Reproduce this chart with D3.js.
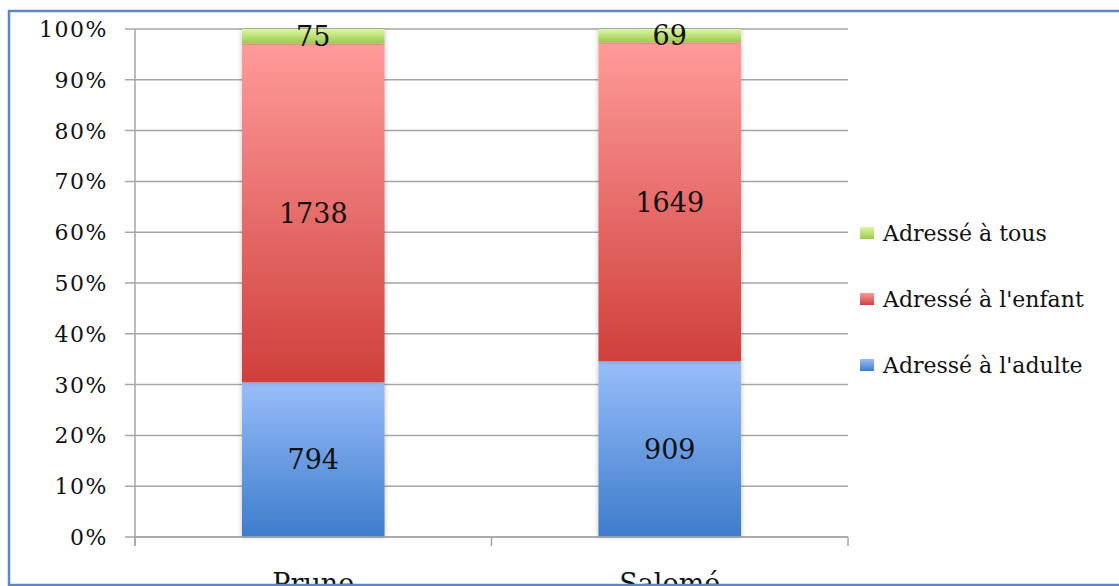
<!DOCTYPE html>
<html>
<head>
<meta charset="utf-8">
<script src="https://cdn.jsdelivr.net/npm/d3@7"></script>
<style>
  body { margin: 0; background: #fff; overflow: hidden; }
  svg { display: block; }
  .tick-label { font: 22px "DejaVu Serif"; letter-spacing: 1.5px; fill: #111; }
  .value-label { font: 27px "DejaVu Serif"; fill: #111; }
  .cat-label { font: 27px "DejaVu Serif"; fill: #111; }
  .legend-label { font: 22px "DejaVu Serif"; fill: #111; }
</style>
</head>
<body>
<svg id="chart" width="1119" height="586"></svg>
<script>
// data
const categories = ['Prune', 'Salomé'];
const seriesNames = ['Adressé à l\u2019adulte', 'Adressé à l\u2019enfant', 'Adressé à tous'];
const adulte = [794, 909];
const enfant = [1738, 1649];
const tous = [75, 69];
const yTicks = [0, 0.1, 0.2, 0.3, 0.4, 0.5, 0.6, 0.7, 0.8, 0.9, 1];

const legendNames = ['Adressé à tous', 'Adressé à l\'enfant', 'Adressé à l\'adulte'];

// config
const MARGIN = { top: 29, left: 135, right: 848, bottom: 537 };
const gradients = [
  ['#99bdfa', '#3c7ccb'],
  ['#ff9b99', '#cf3f3c'],
  ['#dbf8a2', '#9cc84e']
];

const svg = d3.select('#chart');
const defs = svg.append('defs');

gradients.forEach((g, i) => {
  const lg = defs.append('linearGradient')
    .attr('id', 'grad' + i)
    .attr('x1', 0).attr('y1', 0).attr('x2', 0).attr('y2', 1);
  lg.append('stop').attr('offset', '0%').attr('stop-color', g[0]);
  lg.append('stop').attr('offset', '100%').attr('stop-color', g[1]);
});

const shadow = defs.append('filter').attr('id', 'shadow')
  .attr('x', '-10%').attr('y', '-5%').attr('width', '120%').attr('height', '110%');
shadow.append('feDropShadow')
  .attr('dx', 0).attr('dy', 0).attr('stdDeviation', 2.5)
  .attr('flood-color', '#000').attr('flood-opacity', 0.25);

const x = d3.scaleBand()
  .domain(categories)
  .range([MARGIN.left, MARGIN.right])
  .paddingInner(0.6)
  .paddingOuter(0.3);

const y = d3.scaleLinear().domain([0, 1]).range([MARGIN.bottom, MARGIN.top]);

// gridlines + y axis ticks
svg.append('g')
  .selectAll('line')
  .data(yTicks)
  .enter()
  .append('line')
  .attr('x1', MARGIN.left - 10)
  .attr('x2', MARGIN.right)
  .attr('y1', d => y(d))
  .attr('y2', d => y(d))
  .attr('stroke', '#a6a6a6')
  .attr('stroke-width', 1.5);

svg.append('g')
  .selectAll('text')
  .data(yTicks)
  .enter()
  .append('text')
  .attr('class', 'tick-label')
  .attr('x', 108)
  .attr('y', d => y(d))
  .attr('dy', '0.36em')
  .attr('text-anchor', 'end')
  .text(d3.format('.0%'));

// axes
svg.append('line')
  .attr('x1', MARGIN.left).attr('x2', MARGIN.left)
  .attr('y1', MARGIN.top).attr('y2', MARGIN.bottom + 9)
  .attr('stroke', '#a6a6a6').attr('stroke-width', 1.5);

const xTicks = [MARGIN.left].concat(categories.map(c => x(c) + x.bandwidth() + x.step() * 0.3));
svg.append('g')
  .selectAll('line')
  .data(xTicks)
  .enter()
  .append('line')
  .attr('x1', d => d).attr('x2', d => d)
  .attr('y1', MARGIN.bottom).attr('y2', MARGIN.bottom + 9)
  .attr('stroke', '#a6a6a6').attr('stroke-width', 1.5);

// stacked bars
const rows = categories.map((c, i) => ({ cat: c, s0: adulte[i], s1: enfant[i], s2: tous[i] }));
const stack = d3.stack().keys(['s0', 's1', 's2']).offset(d3.stackOffsetExpand);
const stacked = stack(rows);

const layer = svg.append('g')
  .selectAll('g')
  .data(stacked)
  .enter()
  .append('g');

layer.selectAll('rect')
  .data((d, i) => d.map(p => ({ p, i })))
  .enter()
  .append('rect')
  .attr('x', d => x(d.p.data.cat))
  .attr('width', x.bandwidth())
  .attr('y', d => y(d.p[1]))
  .attr('height', d => y(d.p[0]) - y(d.p[1]))
  .attr('fill', d => 'url(#grad' + d.i + ')')
  .attr('filter', 'url(#shadow)');

// x axis line over the bars
svg.append('line')
  .attr('x1', MARGIN.left).attr('x2', MARGIN.right)
  .attr('y1', MARGIN.bottom).attr('y2', MARGIN.bottom)
  .attr('stroke', '#a6a6a6').attr('stroke-width', 1.5);

layer.selectAll('text')
  .data(d => d.map(p => ({ p, v: p.data[d.key] })))
  .enter()
  .append('text')
  .attr('class', 'value-label')
  .attr('x', d => x(d.p.data.cat) + x.bandwidth() / 2)
  .attr('y', d => (y(d.p[0]) + y(d.p[1])) / 2)
  .attr('dy', '0.36em')
  .attr('text-anchor', 'middle')
  .text(d => d.v);

// category labels
svg.append('g')
  .selectAll('text')
  .data(categories)
  .enter()
  .append('text')
  .attr('class', 'cat-label')
  .attr('x', d => x(d) + x.bandwidth() / 2)
  .attr('y', 593)
  .attr('text-anchor', 'middle')
  .text(d => d);

// legend
const legend = svg.append('g')
  .selectAll('g')
  .data(legendNames)
  .enter()
  .append('g')
  .attr('transform', (d, i) => 'translate(860,' + (233 + i * 66) + ')');

legend.append('rect')
  .attr('x', 0).attr('y', -6)
  .attr('width', 14).attr('height', 12)
  .attr('fill', (d, i) => 'url(#grad' + (2 - i) + ')');

legend.append('text')
  .attr('class', 'legend-label')
  .attr('x', 23)
  .attr('y', 0)
  .attr('dy', '0.36em')
  .text(d => d);

// chart frame
svg.append('rect')
  .attr('x', 9).attr('y', 11)
  .attr('width', 1130).attr('height', 574)
  .attr('fill', 'none')
  .attr('stroke', '#5b88c4')
  .attr('stroke-width', 2.5);
</script>
</body>
</html>
